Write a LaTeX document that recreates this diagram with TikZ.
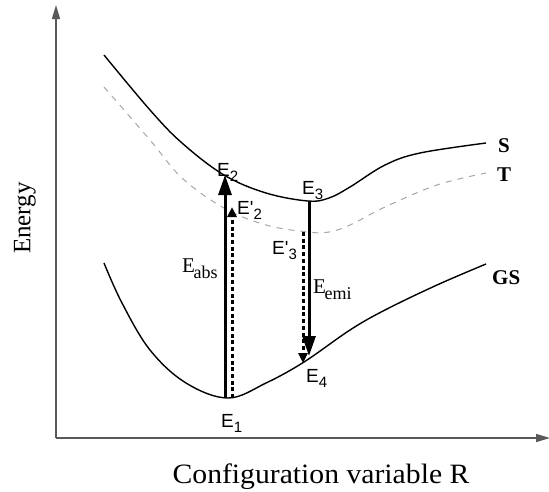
\documentclass[tikz,border=0pt]{standalone}
\usepackage{fontspec}
\setmainfont{Liberation Serif}
\newfontfamily\arialf{Liberation Sans}
\usetikzlibrary{arrows.meta}
\newcommand{\lsub}[1]{\raisebox{-5pt}{\fontsize{15}{15}\selectfont #1}}
\begin{document}
\begin{tikzpicture}[x=1pt,y=-1pt,
  axis/.style={draw=black!65, line width=1.4pt, -{Triangle[length=14pt,width=8pt]}},
  curve/.style={line width=1.4pt, black},
  tcurve/.style={line width=1pt, black!35, dash pattern=on 6pt off 6pt},
  solidup/.style={line width=3pt, -{Triangle[length=20pt,width=13pt]}},
  dashup/.style={line width=3pt, dash pattern=on 4pt off 2.7pt, -{Triangle[length=10pt,width=9pt]}},
  elabel/.style={font=\arialf\fontsize{19}{19}\selectfont, inner sep=0pt, anchor=base west},
  sublabel/.style={font=\fontsize{21}{21}\selectfont, inner sep=0pt, anchor=base west},
  curvelabel/.style={font=\bfseries\fontsize{21}{21}\selectfont, inner sep=0pt, anchor=base west},
]
\useasboundingbox (0,0) rectangle (549,491);
% axes
\coordinate (o) at (56,438);
\coordinate (ytop) at (56,5);
\coordinate (xend) at (550,438);
\draw[axis] (o) -- (ytop);
\draw[axis] (o) -- (xend);
% curves
\draw[curve] plot[smooth, tension=0.6] coordinates {(104,55) (150,110) (182,143) (224,175) (266,193) (308,201) (329,198) (350,187) (385,165) (420,153) (486,143)};
\draw[tcurve] plot[smooth, tension=0.6] coordinates {(104,87) (150,140) (182,178) (224,208) (266,225) (308,232) (329,232) (350,225) (385,207) (437,185) (486,173)};
\draw[curve] plot[smooth, tension=0.6] coordinates {(104,263) (122,303) (150,350) (186,383) (228,398) (266,383) (304,362) (350,330) (385,310) (437,285) (486,264)};
% transition points
\coordinate (e1) at (225,398);
\coordinate (e2) at (225,175);
\coordinate (e1p) at (232,398);
\coordinate (e2p) at (232,207);
\coordinate (e3) at (309,201);
\coordinate (e4) at (309,356);
\coordinate (e3p) at (303,232);
\coordinate (e4p) at (303,363);
\draw[solidup] (e1) -- (e2);
\draw[dashup] (e1p) -- (e2p);
\draw[dashup] (e3p) -- (e4p);
\draw[solidup] (e3) -- (e4);
% labels
\node[elabel] (l2) at (217,176) {E\lsub{2}};
\node[elabel] (l2p) at (237,214) {E\textquotesingle\lsub{2}};
\node[elabel] (l3) at (302,194) {E\lsub{3}};
\node[elabel] (l3p) at (272,254) {E\textquotesingle\lsub{3}};
\node[elabel] (l4) at (306,382) {E\lsub{4}};
\node[elabel] (l1) at (221,427) {E\lsub{1}};
\node[sublabel] (labs) at (182,272) {E\kern-1.5pt\raisebox{-6pt}{\fontsize{18}{18}\selectfont abs}};
\node[sublabel] (lemi) at (313,293) {E\kern-1.5pt\raisebox{-6pt}{\fontsize{18}{18}\selectfont emi}};
\node[curvelabel] (ls) at (498,152) {S};
\node[curvelabel] (lt) at (497,181) {T};
\node[curvelabel] (lgs) at (492,284) {GS};
\node[font=\fontsize{25}{25}\selectfont, rotate=90, inner sep=0pt] (yl) at (25,218) {Energy};
\node[font=\fontsize{28}{28}\selectfont, xscale=1.06, inner sep=0pt, anchor=base] (xl) at (321,483) {Configuration variable R};
\end{tikzpicture}
\end{document}
